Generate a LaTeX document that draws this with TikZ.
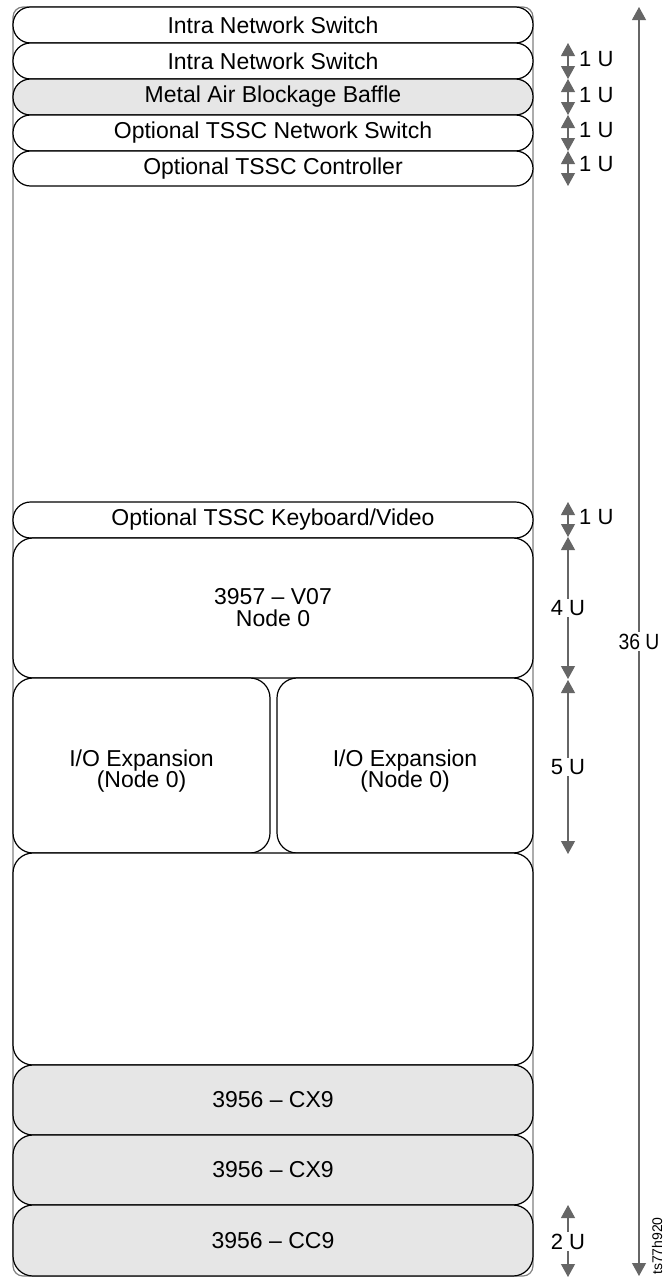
\documentclass[tikz,border=0pt]{standalone}
\usepackage{fontspec}
\setmainfont{Liberation Sans}
\usetikzlibrary{arrows.meta}
\definecolor{boxgray}{HTML}{E6E6E6}
\definecolor{framegray}{HTML}{808080}
\definecolor{dimgray}{HTML}{666666}
\begin{document}
\begin{tikzpicture}[x=1pt,y=-1pt,
  box/.style={draw=black, line width=1.2pt, fill=white, rounded corners=17.5pt,
    minimum width=520pt, inner sep=0pt, font=\fontsize{23}{25}\selectfont},
  bigbox/.style={box, rounded corners=20pt},
  grayfill/.style={fill=boxgray},
  lbl/.style={font=\fontsize{23}{25}\selectfont, align=center, inner sep=0pt},
  dim/.style={draw=dimgray, line width=1.1pt,
    {Triangle[width=14pt,length=13pt,fill=dimgray]}-{Triangle[width=14pt,length=13pt,fill=dimgray]}},
  dimlbl/.style={font=\fontsize{22}{24}\selectfont, text=black, fill=white, inner sep=1.5pt},
  sidelbl/.style={font=\fontsize{22}{24}\selectfont, text=black, anchor=west, inner sep=0pt}
]
\useasboundingbox (0,0) rectangle (664,1277);
% frame
\draw[framegray, line width=1.2pt, rounded corners=10pt] (13,7) rectangle (533,1276);
% 1U boxes
\node[box, minimum height=36pt] (b1) at (273,25) {Intra Network Switch};
\node[box, minimum height=36pt] (b2) at (273,61) {Intra Network Switch};
\node[box, grayfill, minimum height=36pt] (b3) at (273,97) {Metal Air Blockage Baffle};
\node[box, minimum height=36pt] (b4) at (273,133) {Optional TSSC Network Switch};
\node[box, minimum height=35pt] (b5) at (273,168.5) {Optional TSSC Controller};
\node[box, minimum height=36pt] (b6) at (273,520) {Optional TSSC Keyboard/Video};
% node 0
\node[bigbox, minimum height=140pt, align=center] (b7) at (273,608) {3957 -- V07\\[-3pt]Node 0};
% IO expansion
\node[bigbox, minimum width=257pt, minimum height=175pt] (b8a) at (141.5,765.5) {};
\node[bigbox, minimum width=256pt, minimum height=175pt] (b8b) at (405,765.5) {};
\node[lbl] (t8a) at ([yshift=-6pt]b8a.center) {I/O Expansion\\[-4pt](Node 0)};
\node[lbl] (t8b) at ([yshift=-6pt]b8b.center) {I/O Expansion\\[-4pt](Node 0)};
% empty
\node[bigbox, minimum height=212pt] (b9) at (273,959) {};
% CX9 / CC9
\node[bigbox, grayfill, minimum height=70pt] (b10) at (273,1100) {3956 -- CX9};
\node[bigbox, grayfill, minimum height=70pt] (b11) at (273,1170) {3956 -- CX9};
\node[bigbox, grayfill, minimum height=71pt] (b12) at (273,1240.5) {3956 -- CC9};
% dimension coordinates
\coordinate (d1) at (568,43);
\coordinate (d2) at (568,79);
\coordinate (d3) at (568,115);
\coordinate (d4) at (568,151);
\coordinate (d5) at (568,186);
\coordinate (e1) at (568,502);
\coordinate (e2) at (568,537);
\coordinate (e3) at (568,679);
\coordinate (e4) at (568,680);
\coordinate (e5) at (568,854);
\coordinate (f1) at (568,1205);
\coordinate (f2) at (568,1277);
\coordinate (g1) at (639,7);
\coordinate (g2) at (639,1276);
% 1U arrows
\draw[dim] (d1) -- (d2);
\draw[dim] (d2) -- (d3);
\draw[dim] (d3) -- (d4);
\draw[dim] (d4) -- (d5);
\node[sidelbl] (l1) at (579,59) {1 U};
\node[sidelbl] (l2) at (579,95) {1 U};
\node[sidelbl] (l3) at (579,130) {1 U};
\node[sidelbl] (l4) at (579,164) {1 U};
\draw[dim] (e1) -- (e2);
\node[sidelbl] (l5) at (579,517) {1 U};
\draw[dim] (e2) -- node[dimlbl] (l6) {4 U} (e3);
\draw[dim] (e4) -- node[dimlbl, pos=0.5] (l7) {5 U} (e5);
\draw[dim] (f1) -- node[dimlbl, pos=0.51] (l8) {2 U} (f2);
\draw[dim] (g1) -- node[dimlbl, pos=0.5, xscale=0.88] (l9) {36 U} (g2);
\node[rotate=90, font=\fontsize{14}{15}\selectfont, inner sep=0pt] (id) at (657,1246) {ts77h920};
\end{tikzpicture}
\end{document}
